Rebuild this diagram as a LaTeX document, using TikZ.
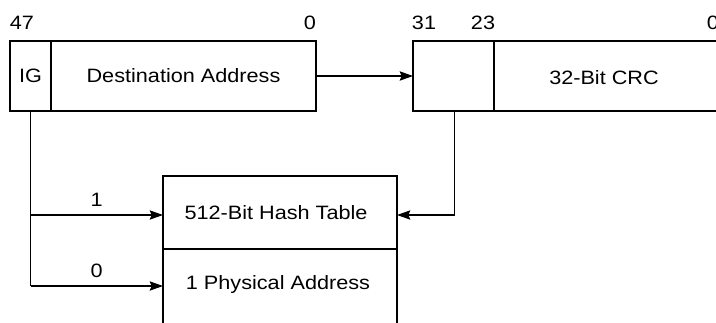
\documentclass[tikz,border=0pt]{standalone}
\usepackage{fontspec}
\setmainfont{Liberation Sans}[FakeStretch=1.12]
\usetikzlibrary{arrows.meta}
\tikzset{
  box/.style={draw=black, line width=1.6pt, inner sep=0pt, outer sep=0pt, fill=none},
  txt/.style={inner sep=0pt, font=\fontsize{14.5pt}{17pt}\selectfont},
  conn/.style={draw=black, line width=0.8pt},
  arr/.style={conn, -{Stealth[length=10pt,width=7pt,inset=1.5pt]}}
}
\begin{document}
\begin{tikzpicture}[x=0.75pt,y=-0.75pt]
\clip (0,0) rectangle (716,322);
\fill[white] (0,0) rectangle (716,322);
% top-left register
\node[box, minimum width=30.75pt, minimum height=52.5pt, txt] (ig) at (30.5,76) {IG};
\node[box, minimum width=198.75pt, minimum height=52.5pt, txt] (da) at (183.5,76) {Destination Address};
% CRC register
\node[box, minimum width=60.75pt, minimum height=52.5pt] (hi) at (453.5,76) {};
\node[box, minimum width=229.5pt, minimum height=52.5pt] (crc) at (647,76) {};
\node[txt] (crctxt) at (604,78) {32-Bit CRC};
% bit numbers
\node[txt] (b47) at (22,23) {47};
\node[txt] (b0a) at (310,23) {0};
\node[txt] (b31) at (424,23) {31};
\node[txt] (b23) at (483,23) {23};
\node[txt] (b0b) at (713,23) {0};
% table
\node[box, minimum width=175.5pt, minimum height=54.75pt] (hash) at (280,212.5) {};
\node[txt] (hashtxt) at (276,213) {512-Bit Hash Table};
\node[box, minimum width=175.5pt, minimum height=72pt, anchor=north] (phys) at (280,249) {};
\node[txt] (phystxt) at (278,284) {1 Physical Address};
% connectors
\draw[arr] (da.east) -- (hi.west);
\coordinate (igb) at (ig.south);
\coordinate (j1) at (ig.south |- 0,215);
\coordinate (j0) at (ig.south |- 0,286);
\draw[conn] (igb) -- (j0);
\draw[arr] (j1) -- node[txt, above=6pt] (l1) {1} (j1 -| hash.west);
\draw[arr] (j0) -- node[txt, above=6pt] (l0) {0} (j0 -| phys.west);
\coordinate (crcb) at ([xshift=0.75pt]hi.south);
\draw[arr] (crcb) |- (hash.east |- 0,215);
\end{tikzpicture}
\end{document}
